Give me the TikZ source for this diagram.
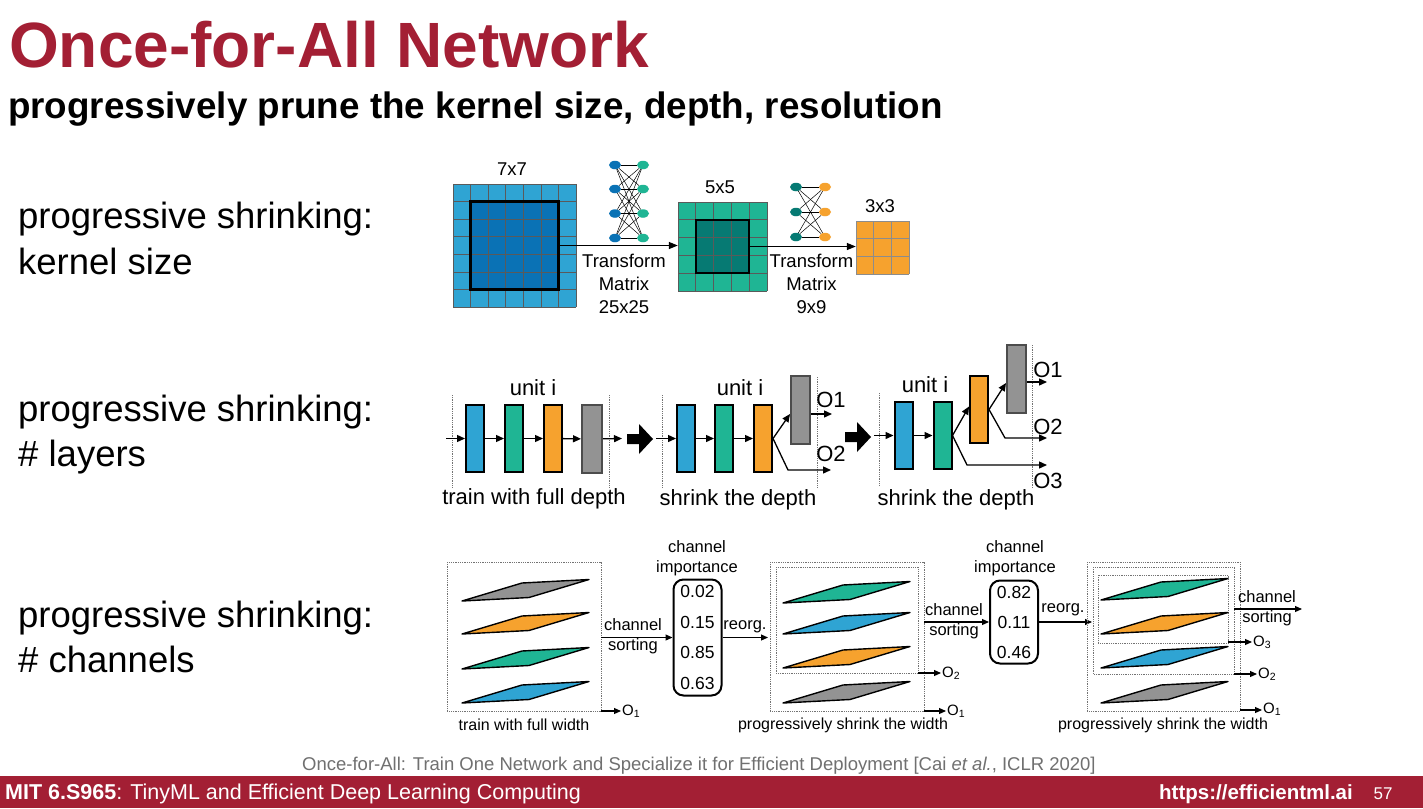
\documentclass[tikz,border=0pt]{standalone}
\usepackage{fontspec}
\setmainfont{Liberation Sans}
\usepackage{graphicx}
\usetikzlibrary{arrows.meta,calc,shapes.geometric}
\definecolor{mitred}{HTML}{A31F34}
\definecolor{cblue}{HTML}{2FA4D3}
\definecolor{cdblue}{HTML}{0A72B5}
\definecolor{cteal}{HTML}{1FB594}
\definecolor{cdteal}{HTML}{067A73}
\definecolor{corange}{HTML}{F6A22E}
\definecolor{cgray}{HTML}{939393}
\definecolor{citegray}{HTML}{707070}
\definecolor{gridc}{HTML}{5A5A5A}
\newcommand\chplane[3]{\filldraw[fill=#3,draw=black,line width=1.4pt,line join=round] (#1,#2) -- ++(67,-3.5) -- ++(60,-18) -- ++(-67,3.5) -- cycle;}
\begin{document}
\begin{tikzpicture}[x=1pt,y=-1pt,
  sidelbl/.style={anchor=base west,inner sep=0pt,font=\fontsize{36.5}{40}\selectfont},
  ktxt/.style={inner sep=0pt,align=center,font=\fontsize{18.5}{23}\selectfont},
  ltxt/.style={inner sep=0pt,align=center,font=\fontsize{22}{26}\selectfont},
  ctxt/.style={inner sep=0pt,align=center,font=\fontsize{16.5}{20}\selectfont},
  wtxt/.style={inner sep=0pt,align=center,font=\fontsize{16}{19}\selectfont},
  otxt/.style={inner sep=0pt,anchor=west,font=\fontsize{15}{17}\selectfont},
  karr/.style={line width=1.4pt,-{Triangle[length=9pt,width=7pt]}},
  larr/.style={line width=1.3pt,-{Triangle[length=8pt,width=7pt]}},
  carr/.style={line width=1.1pt,-{Triangle[length=7pt,width=6pt]}},
  lay/.style={draw=black,line width=2pt,inner sep=0pt,minimum width=18pt,minimum height=67pt},
  dotl/.style={densely dotted,line width=0.8pt,draw=black!55},
  netn/.style={ellipse,inner sep=0pt,minimum width=12pt,minimum height=8.5pt},
  gline/.style={draw=gridc,line width=0.7pt},
  imp/.style={draw=black,line width=2pt,rounded corners=10pt,inner sep=0pt,align=center,minimum width=48pt,font=\fontsize{17.5}{30.7}\selectfont}
]
\useasboundingbox (0,0) rectangle (1423,808);
\fill[white] (0,0) rectangle (1423,808);

% ---------- title ----------
\node[anchor=base west,inner sep=0pt,text=mitred,font=\fontsize{64}{70}\selectfont\bfseries] (title) at (9,67) {Once-for-All Network};
\node[anchor=base west,inner sep=0pt,font=\fontsize{36.8}{40}\selectfont\bfseries] (subtitle) at (8,118) {progressively prune the kernel size, depth, resolution};

% ---------- side labels ----------
\node[sidelbl] (s1a) at (18,228) {progressive shrinking:};
\node[sidelbl] (s1b) at (18,274) {kernel size};
\node[sidelbl] (s2a) at (18,421) {progressive shrinking:};
\node[sidelbl] (s2b) at (18,466) {\# layers};
\node[sidelbl] (s3a) at (18,627) {progressive shrinking:};
\node[sidelbl] (s3b) at (18,672) {\# channels};

% ---------- kernel size ----------
% 7x7
\fill[cblue] (453,184) rectangle (576,307);
\fill[cdblue] (470.6,201.6) rectangle (558.4,289.4);
\foreach \i in {0,...,7} {
  \draw[gline] ({453+\i*17.57},184) -- ({453+\i*17.57},307);
  \draw[gline] (453,{184+\i*17.57}) -- (576,{184+\i*17.57});
}
\node[draw=black,line width=2.5pt,inner sep=0pt,minimum width=87.8pt,minimum height=87.8pt] (k7i) at (514.5,245.5) {};
\node[ktxt] (k7l) at (512,169) {7x7};
% 5x5
\fill[cteal] (678,202) rectangle (767,291);
\fill[cdteal] (695.8,219.8) rectangle (749.2,273.2);
\foreach \i in {0,...,5} {
  \draw[gline] ({678+\i*17.8},202) -- ({678+\i*17.8},291);
  \draw[gline] (678,{202+\i*17.8}) -- (767,{202+\i*17.8});
}
\node[inner sep=0pt,minimum width=89pt,minimum height=89pt] (k5o) at (722.5,246.5) {};
\node[draw=black,line width=2.5pt,inner sep=0pt,minimum width=53.4pt,minimum height=53.4pt] (k5i) at (722.5,246.5) {};
\node[ktxt] (k5l) at (720,187) {5x5};
% 3x3
\fill[corange] (856,221) rectangle (909,274);
\foreach \i in {0,...,3} {
  \draw[gline,draw=black!45] ({856+\i*17.67},221) -- ({856+\i*17.67},274);
  \draw[gline,draw=black!45] (856,{221+\i*17.67}) -- (909,{221+\i*17.67});
}
\node[inner sep=0pt,minimum width=53pt,minimum height=53pt] (k3) at (882.5,247.5) {};
\node[ktxt] (k3l) at (880,206) {3x3};
% arrows
\draw[karr] (k7i.east) -- (k7i.east -| k5o.west);
\draw[karr] (k5i.east) -- (k5i.east -| k3.west);
\node[ktxt,font=\fontsize{18.5}{23.3}\selectfont] (tm1) at (624,284) {Transform\\Matrix\\25x25};
\node[ktxt,font=\fontsize{18.5}{23.3}\selectfont] (tm2) at (811.5,284) {Transform\\Matrix\\9x9};
% network icon 1
\foreach \k/\yy in {1/165,2/189,3/213.5,4/238} {
  \node[netn,fill=cdblue] (pl\k) at (615,\yy) {};
  \node[netn,fill=cteal] (pr\k) at (643,\yy) {};
}
\foreach \i in {1,...,4} { \foreach \j in {1,...,4} { \draw[line width=0.5pt] (pl\i) -- (pr\j); } }
% network icon 2
\foreach \k/\yy in {1/187,2/212,3/237} {
  \node[netn,fill=cdteal] (ql\k) at (796,\yy) {};
  \node[netn,fill=corange] (qr\k) at (825,\yy) {};
}
\foreach \i in {1,...,3} { \foreach \j in {1,...,3} { \draw[line width=0.5pt] (ql\i) -- (qr\j); } }

% ---------- layers ----------
% stage 1
\draw[dotl] (452,395) -- (452,488);
\draw[dotl] (609,395) -- (609,488);
\node[lay,fill=cblue] (a1) at (475,438.5) {};
\node[lay,fill=cteal] (a2) at (514,438.5) {};
\node[lay,fill=corange] (a3) at (553,438.5) {};
\node[lay,fill=cgray,draw=black!70,minimum width=20pt,minimum height=68pt] (a4) at (592,439) {};
\coordinate (a0) at (446,438.5);
\coordinate (a5) at (622,438.5);
\draw[larr] (a0) -- (a1);
\draw[larr] (a1) -- (a2);
\draw[larr] (a2) -- (a3);
\draw[larr] (a3) -- (a4);
\draw[larr] (a4) -- (a5);
\node[ltxt] (u1) at (533,388) {unit i};
\node[ltxt] (d1) at (534,499) {train with full depth};
\fill (627,434) -- (639,434) -- (639,424) -- (653,439) -- (639,454) -- (639,444) -- (627,444) -- cycle;

% stage 2
\draw[dotl] (662,395) -- (662,488);
\draw[dotl] (817,377) -- (817,488);
\node[lay,fill=cblue] (b1) at (686,438.5) {};
\node[lay,fill=cteal] (b2) at (724,438.5) {};
\node[lay,fill=corange] (b3) at (763,438.5) {};
\node[lay,fill=cgray,draw=black!70,minimum width=19pt,minimum height=68pt] (b4) at (800.5,410) {};
\coordinate (b0) at (656,438.5);
\draw[larr] (b0) -- (b1);
\draw[larr] (b1) -- (b2);
\draw[larr] (b2) -- (b3);
\draw[larr] (b3.east) -- ($(b4.west)+(0,4)$);
\coordinate (bo2) at (831,470);
\draw[larr] (b3.east) -- (788,470) -- (bo2);
\coordinate (bo1) at (832,414);
\draw[larr] ($(b4.east)+(0,4)$) -- (bo1);
\node[ltxt] (u2) at (740,388) {unit i};
\node[ltxt] (d2) at (738,500) {shrink the depth};
\node[ltxt] (b4o1) at (831,400) {O1};
\node[ltxt] (b4o2) at (831,454) {O2};
\fill (845,432) -- (857,432) -- (857,422) -- (871,437) -- (857,452) -- (857,442) -- (845,442) -- cycle;

% stage 3
\draw[dotl] (879,393) -- (879,485);
\draw[dotl] (1032,345) -- (1032,488);
\node[lay,fill=cblue] (c1) at (903.5,435.5) {};
\node[lay,fill=cteal] (c2) at (942.5,435.5) {};
\node[lay,fill=corange] (c3) at (979,409.5) {};
\node[lay,fill=cgray,draw=black!70,minimum width=19pt,minimum height=68pt] (c4) at (1016.5,378.5) {};
\coordinate (c0) at (874,435.5);
\draw[larr] (c0) -- (c1);
\draw[larr] (c1) -- (c2);
\draw[larr] (c2.east) -- ($(c3.west)+(0,-3)$);
\draw[larr] (c3.east) -- ($(c4.west)+(0,4.5)$);
\coordinate (co3) at (1047,465);
\draw[larr] (c2.east) -- (967,465) -- (co3);
\coordinate (co2) at (1047,438);
\draw[larr] (c3.east) -- (1005,438) -- (co2);
\coordinate (co1) at (1047,382);
\draw[larr] ($(c4.east)+(0,3.5)$) -- (co1);
\node[ltxt] (u3) at (925,385) {unit i};
\node[ltxt] (d3) at (956,500) {shrink the depth};
\node[ltxt] (c4o1) at (1048,370) {O1};
\node[ltxt] (c4o2) at (1048,427) {O2};
\node[ltxt] (c4o3) at (1048,481) {O3};

% ---------- channels ----------
% box 1
\draw[dotl] (447,562) rectangle (601,711);
\chplane{462}{601}{cgray}
\chplane{462}{634}{corange}
\chplane{462}{669}{cteal}
\chplane{462}{703}{cblue}
\node[imp,minimum height=116pt] (imp1) at (697.5,637.5) {0.02\\0.15\\0.85\\0.63};
\node[ctxt] (ci1) at (697,558) {channel\\importance};
\coordinate (cs1) at (601,637.5);
\draw[carr] (cs1) -- (imp1);
\node[ctxt] (cst1) at (633,636.5) {channel\\sorting};
\coordinate (ro1) at (768,637.5);
\draw[carr] (imp1) -- (ro1);
\node[ctxt] (rl1) at (745,627) {reorg.};
\coordinate (x1o1a) at (601,711);
\coordinate (x1o1b) at (621,711);
\draw[carr] (x1o1a) -- (x1o1b);
\node[otxt] (x1o1) at (622,711) {O\textsubscript{1}};
\node[wtxt] (w1) at (524,725) {train with full width};

% box 2
\draw[dotl] (770,562) rectangle (924,711);
\draw[dotl] (776,567) rectangle (918,673);
\chplane{783}{603}{cteal}
\chplane{783}{634}{cblue}
\chplane{783}{668}{corange}
\chplane{783}{703}{cgray}
\node[imp,minimum height=83pt,font=\fontsize{17.5}{30}\selectfont] (imp2) at (1014,622) {0.82\\0.11\\0.46};
\node[ctxt] (ci2) at (1015,558) {channel\\importance};
\coordinate (cs2) at (924,622);
\draw[carr] (cs2) -- (imp2);
\node[ctxt] (cst2) at (954,621.5) {channel\\sorting};
\coordinate (ro2) at (1092,622);
\draw[carr] (imp2) -- (ro2);
\node[ctxt] (rl2) at (1063,610) {reorg.};
\coordinate (x2o2a) at (918,673);
\coordinate (x2o2b) at (941,673);
\draw[carr] (x2o2a) -- (x2o2b);
\node[otxt] (x2o2) at (942,673) {O\textsubscript{2}};
\coordinate (x2o1a) at (924,711);
\coordinate (x2o1b) at (946,711);
\draw[carr] (x2o1a) -- (x2o1b);
\node[otxt] (x2o1) at (947,711) {O\textsubscript{1}};
\node[wtxt] (w2) at (843,725) {progressively shrink the width};

% box 3
\draw[dotl] (1087,562) rectangle (1240,711);
\draw[dotl] (1093,567) rectangle (1234,674);
\draw[dotl] (1098,575) rectangle (1228,643);
\chplane{1101}{600}{cteal}
\chplane{1101}{634}{corange}
\chplane{1101}{668}{cblue}
\chplane{1101}{703}{cgray}
\coordinate (cs3a) at (1234,609);
\coordinate (cs3b) at (1302,609);
\draw[carr] (cs3a) -- (cs3b);
\node[ctxt] (cst3) at (1267,608) {channel\\sorting};
\coordinate (x3o3a) at (1228,642);
\coordinate (x3o3b) at (1252,642);
\draw[carr] (x3o3a) -- (x3o3b);
\node[otxt] (x3o3) at (1253,642) {O\textsubscript{3}};
\coordinate (x3o2a) at (1234,674);
\coordinate (x3o2b) at (1257,674);
\draw[carr] (x3o2a) -- (x3o2b);
\node[otxt] (x3o2) at (1258,674) {O\textsubscript{2}};
\coordinate (x3o1a) at (1240,710);
\coordinate (x3o1b) at (1262,710);
\draw[carr] (x3o1a) -- (x3o1b);
\node[otxt] (x3o1) at (1263,709.5) {O\textsubscript{1}};
\node[wtxt] (w3) at (1163,725) {progressively shrink the width};

% ---------- citation and footer ----------
\node[anchor=base west,inner sep=0pt,text=citegray,font=\fontsize{18.5}{22}\selectfont] (cite) at (302,770) {Once-for-All: Train One Network and Specialize it for Efficient Deployment [Cai \textit{et al.}, ICLR 2020]};
\fill[mitred] (0,776) rectangle (1423,808);
\node[anchor=base west,inner sep=0pt,text=white,font=\fontsize{21.5}{24}\selectfont] (foot) at (5,799) {\textbf{MIT 6.S965}: TinyML and Efficient Deep Learning Computing};
\node[anchor=base east,inner sep=0pt,text=white,font=\fontsize{20.5}{24}\selectfont\bfseries] (url) at (1353,799) {https://efficientml.ai};
\node[anchor=base,inner sep=0pt,text=white,font=\fontsize{17}{20}\selectfont] (pg) at (1383,799) {57};
\end{tikzpicture}
\end{document}
